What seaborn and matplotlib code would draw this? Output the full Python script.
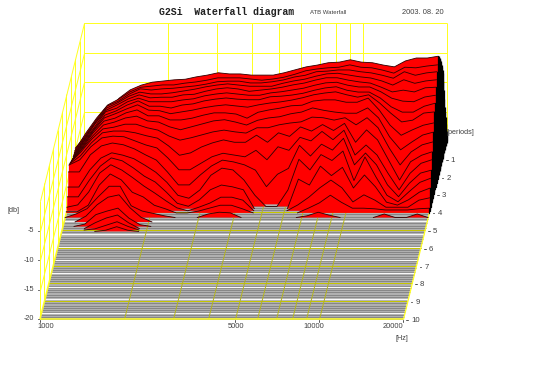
"""G2Si waterfall diagram redrawn as an oblique stack of decay slices."""
import matplotlib
matplotlib.use("Agg")
import matplotlib.pyplot as plt
import numpy as np
import pandas as pd
import seaborn as sns

freqs = [1000, 1095, 1199, 1313, 1438, 1575, 1725, 1889, 2068, 2265, 2480, 2716,
         2974, 3257, 3567, 3906, 4277, 4684, 5129, 5617, 6151, 6736, 7376, 8078,
         8846, 9687, 10608, 11617, 12721, 13930, 15255, 16705, 18293, 20000]

slice_periods = [2.00, 2.12, 2.24, 2.36, 2.48, 2.60, 2.72, 2.84, 2.96, 3.08, 3.20, 3.32,
                 3.44, 3.56, 3.68, 3.80, 3.92, 4.04, 4.30, 4.55, 4.80, 4.92, 5.00, 5.08]

db_00 = [-15.2, -12.9, -10.4, -8.7, -6.7, -5.3, -4.5, -4.0, -3.8, -3.6, -3.5, -3.1, -2.8, -2.4, -2.6, -2.6, -2.8, -2.8, -2.8, -2.4, -1.9, -1.4, -1.1, -0.7, -0.6, -0.2, -0.6, -0.7, -1.1, -1.4, -0.4, 0.1, 0.1, 0.4]
db_01 = [-15.3, -12.3, -9.7, -7.5, -6.5, -5.3, -4.5, -4.3, -4.1, -4.1, -3.8, -3.6, -3.3, -2.9, -2.9, -2.9, -3.1, -3.3, -3.1, -2.8, -2.3, -1.7, -1.4, -1.2, -1.1, -0.7, -1.1, -1.2, -1.6, -2.1, -1.1, -1.2, -0.9, -0.7]
db_02 = [-15.3, -12.4, -9.7, -7.3, -6.5, -5.3, -4.4, -4.6, -4.4, -4.3, -4.1, -3.9, -3.6, -3.2, -3.1, -3.1, -3.4, -3.4, -3.2, -2.9, -2.4, -2.1, -1.5, -1.4, -1.2, -1.2, -1.5, -1.7, -2.1, -2.6, -1.5, -2.1, -1.7, -1.5]
db_03 = [-15.3, -12.4, -9.7, -7.3, -6.4, -5.3, -4.6, -4.9, -4.9, -4.7, -4.4, -4.1, -3.7, -3.4, -3.2, -3.4, -3.6, -3.6, -3.6, -3.1, -2.7, -2.4, -1.9, -1.5, -1.4, -1.7, -2.0, -2.2, -2.7, -3.4, -2.5, -3.1, -2.7, -2.5]
db_04 = [-15.2, -12.4, -9.6, -7.3, -6.4, -5.4, -4.7, -5.2, -5.1, -5.1, -4.7, -4.6, -4.1, -3.7, -3.5, -3.7, -4.1, -3.9, -3.7, -3.4, -3.0, -2.7, -2.2, -1.8, -1.8, -2.2, -2.5, -2.7, -3.4, -4.2, -3.9, -4.2, -3.5, -3.4]
db_05 = [-15.2, -12.3, -9.8, -7.2, -6.6, -5.5, -4.9, -5.5, -5.5, -5.5, -5.2, -5.0, -4.5, -4.2, -4.0, -4.2, -4.4, -4.4, -4.0, -3.8, -3.5, -3.2, -2.7, -2.3, -2.2, -2.7, -3.0, -3.0, -3.8, -4.9, -5.4, -5.5, -4.7, -4.4]
db_06 = [-15.0, -12.3, -9.8, -7.4, -6.7, -5.7, -5.0, -5.9, -5.9, -6.2, -5.7, -5.5, -5.0, -4.7, -4.5, -4.7, -4.8, -4.8, -4.3, -4.2, -4.0, -3.7, -3.2, -2.8, -2.6, -3.2, -3.5, -3.5, -4.5, -6.0, -6.9, -6.9, -5.9, -5.4]
db_07 = [-14.8, -12.3, -9.7, -7.5, -6.8, -6.0, -5.3, -6.2, -6.3, -6.8, -6.5, -6.2, -5.8, -5.5, -5.3, -5.5, -5.7, -5.3, -5.0, -4.8, -4.5, -4.1, -3.6, -3.3, -3.1, -3.6, -4.0, -3.6, -5.0, -6.7, -8.2, -7.9, -6.7, -6.5]
db_08 = [-14.6, -12.3, -9.7, -7.7, -7.2, -6.3, -5.8, -6.8, -6.8, -7.5, -7.5, -7.2, -6.7, -6.3, -6.3, -6.5, -7.2, -6.2, -5.8, -5.5, -5.1, -5.0, -4.3, -4.1, -4.1, -4.5, -4.5, -3.8, -5.8, -8.4, -10.1, -9.2, -8.4, -8.0]
db_09 = [-14.4, -12.2, -9.9, -8.0, -7.5, -6.8, -6.5, -7.3, -7.5, -8.3, -8.8, -8.3, -7.8, -7.3, -7.1, -7.5, -8.0, -7.2, -6.8, -6.6, -6.1, -5.8, -5.1, -5.5, -5.8, -6.0, -6.0, -5.1, -6.8, -10.0, -12.2, -10.9, -9.7, -9.2]
db_10 = [-14.1, -12.2, -10.0, -8.3, -8.0, -7.5, -7.5, -8.1, -8.5, -9.5, -10.2, -9.8, -9.3, -8.8, -8.5, -8.8, -9.0, -8.1, -8.1, -7.6, -7.3, -7.1, -6.3, -6.4, -6.8, -6.4, -7.6, -6.4, -8.1, -11.5, -14.4, -12.2, -11.0, -10.5]
db_11 = [-13.9, -12.5, -10.3, -8.6, -8.3, -8.3, -8.6, -9.1, -9.5, -10.8, -12.4, -12.0, -11.0, -10.3, -9.8, -10.2, -10.2, -9.0, -10.2, -8.6, -9.2, -7.6, -8.3, -7.2, -8.2, -7.0, -10.2, -8.1, -9.8, -13.2, -16.6, -13.5, -12.4, -11.8]
db_12 = [-13.7, -12.8, -10.6, -9.1, -8.8, -8.9, -9.6, -10.3, -10.8, -12.5, -14.5, -14.5, -13.4, -12.3, -11.7, -12.0, -12.3, -11.2, -12.8, -10.6, -11.2, -9.0, -9.6, -8.0, -9.4, -7.8, -12.0, -10.3, -12.0, -15.1, -17.9, -15.1, -13.4, -12.8]
db_13 = [-14.5, -14.5, -11.6, -10.1, -9.6, -9.9, -10.6, -11.6, -12.5, -14.5, -16.7, -16.7, -15.0, -13.5, -12.5, -12.8, -13.3, -14.2, -17.0, -14.9, -13.9, -10.0, -11.8, -9.8, -10.8, -8.8, -13.3, -11.3, -13.3, -16.7, -18.7, -16.4, -14.7, -14.2]
db_14 = [-16.7, -16.7, -13.8, -11.8, -10.9, -11.3, -11.9, -13.0, -14.2, -15.9, -18.1, -18.6, -17.2, -14.7, -13.5, -13.8, -15.5, -18.1, -20, -20, -17.2, -12.0, -13.8, -11.2, -12.2, -10.6, -15.6, -11.6, -15.0, -18.1, -19.2, -17.5, -15.9, -15.2]
db_15 = [-18.0, -18.0, -15.2, -12.8, -11.4, -11.9, -13.1, -14.5, -15.5, -17.2, -19.1, -19.6, -18.5, -16.8, -16.0, -16.3, -16.8, -20, -20, -20, -20, -15.0, -16.0, -12.8, -14.4, -13.0, -16.5, -14.3, -16.3, -18.9, -19.4, -18.5, -17.2, -16.5]
db_16 = [-19.4, -19.0, -16.8, -13.6, -12.2, -13.1, -14.4, -15.8, -17.0, -18.3, -19.5, -20, -19.4, -18.7, -17.7, -17.7, -18.2, -20, -20, -20, -20, -19.0, -17.7, -16.1, -14.8, -16.1, -18.5, -17.3, -18.2, -19.4, -19.4, -19.4, -18.2, -17.8]
db_17 = [-19.8, -19.8, -18.7, -15.3, -13.4, -14.4, -16.5, -17.3, -18.7, -19.3, -20, -20, -19.7, -19.2, -18.7, -18.7, -19.3, -20, -20, -20, -20, -20, -19.2, -18.3, -17.0, -18.2, -19.2, -19.2, -19.3, -19.5, -19.5, -19.5, -19.3, -19.2]
db_18 = [-20, -19.4, -18.5, -16.5, -14.7, -14.7, -18.0, -18.9, -19.3, -19.7, -20, -20, -20, -19.4, -19.1, -19.2, -20, -20, -20, -20, -20, -20, -19.7, -19.1, -19.6, -20, -20, -20, -20, -19.4, -20, -20, -19.4, -20]
db_19 = [-20, -20, -19.0, -17.1, -15.8, -15.4, -17.6, -19.2] + [-20] * 26
db_20 = [-20, -20, -19.6, -18.0, -17.4, -16.9, -18.6, -19.7] + [-20] * 26
db_21 = [-20, -20, -20, -19.0, -18.2, -17.7, -19.0, -20] + [-20] * 26
db_22 = [-20, -20, -20, -19.8, -19.2, -18.6, -19.4, -20] + [-20] * 26
db_23 = [-20, -20, -20, -20, -19.8, -19.2, -19.8, -20] + [-20] * 26

# level at 20 kHz while the response is still building up, before the top slice
rise_periods = [0.0, 0.1, 0.2, 0.3, 0.4, 0.5, 0.6, 0.7, 0.8, 0.9,
                1.0, 1.1, 1.2, 1.3, 1.4, 1.5, 1.6, 1.7, 1.8, 1.9]
rise_end_db = [-19.0, -18.0, -16.5, -15.0, -13.8, -12.7, -11.0, -9.3, -7.5, -5.8,
               -5.0, -4.2, -3.5, -2.9, -2.3, -1.8, -1.3, -0.8, -0.3, 0.1]

# pale bands the scan leaves in the floor lines
pale_periods = [4.49, 5.22, 5.96, 6.69, 7.42, 8.20, 8.88, 9.66]

grid_freqs = [2000, 3000, 4000, 5000, 6000, 7000, 8000, 9000, 10000]
db_ticks = [-5, -10, -15, -20]
period_ticks = [1, 2, 3, 4, 5, 6, 7, 8, 9, 10]
freq_labels = ["1000", "5000", "10000", "20000"]

DB_MIN, DB_MAX = -20, 0
F_MIN, F_MAX = 1000, 20000
P_MAX = 10

YELLOW = "#ffff22"


def project(freq, period, db):
    """Oblique projection of (frequency, periods, level) to image pixels."""
    freq = np.asarray(freq, dtype=float)
    period = np.asarray(period, dtype=float)
    db = np.asarray(db, dtype=float)
    x = 84 + 279 * np.log10(freq / F_MIN) - 4.4 * period
    y = 141 + 17.8 * period - 5.9 * (db - DB_MIN)
    return x, y


def seg(ax, a, b, color=YELLOW, lw=0.72, z=1):
    xa, ya = project(*a)
    xb, yb = project(*b)
    ax.plot([xa, xb], [ya, yb], color=color, lw=lw, zorder=z, solid_capstyle="butt", snap=True)


sns.set_theme(style="white")
plt.rcParams["font.family"] = ["Liberation Sans", "DejaVu Sans"]
fig = plt.figure(figsize=(5.4, 3.66), dpi=100)
ax = fig.add_axes([0, 0, 1, 1])

# back and side walls
for db in [0, -5, -10, -15, -20]:
    seg(ax, (F_MIN, 0, db), (F_MAX, 0, db))
    seg(ax, (F_MIN, 0, db), (F_MIN, P_MAX, db))
for f in grid_freqs + [F_MIN, F_MAX]:
    seg(ax, (f, 0, DB_MIN), (f, 0, DB_MAX))
for p in range(0, P_MAX + 1):
    seg(ax, (F_MIN, p, DB_MIN), (F_MIN, p, DB_MAX))

# floor: every late slice has decayed to the bottom of the scale
fx, fy = project([F_MIN, F_MAX, F_MAX, F_MIN], [2.0, 2.0, P_MAX, P_MAX], [DB_MIN] * 4)
ax.fill(fx, fy, color="#b0b0b0", lw=0, zorder=1.4)
for p in np.arange(2.0, P_MAX + 0.001, 0.125):
    x, y = project([F_MIN, F_MAX], [p, p], [DB_MIN, DB_MIN])
    ax.plot(x, y, color="#808080", lw=0.6, zorder=1.5, solid_capstyle="butt")
for p in pale_periods:
    x, y = project([F_MIN, F_MAX], [p, p], [DB_MIN, DB_MIN])
    ax.plot(x, y, color="#f8f8f8", lw=0.85, zorder=1.6, solid_capstyle="butt")

# floor grid
for p in [4, 5, 6, 7, 8, 9]:
    seg(ax, (F_MIN, p, DB_MIN), (F_MAX, p, DB_MIN), color="#c4c400", lw=0.72, z=2)
for f in grid_freqs:
    seg(ax, (f, 3.4, DB_MIN), (f, P_MAX, DB_MIN), color="#b4b41e", lw=0.7, z=2)
seg(ax, (F_MIN, P_MAX, DB_MIN), (F_MAX, P_MAX, DB_MIN), lw=1.1, z=2.2)
seg(ax, (F_MIN, 3.4, DB_MIN), (F_MIN, P_MAX, DB_MIN), lw=1.1, z=2.2)
seg(ax, (F_MAX, 4, DB_MIN), (F_MAX, P_MAX, DB_MIN), lw=0.9, z=2.2)

# build-up part: only the closing edges at 20 kHz can be seen
for p, db in zip(rise_periods, rise_end_db):
    seg(ax, (F_MAX, p, DB_MIN), (F_MAX, p, db), color="black", lw=0.9, z=3)

slices = [db_00, db_01, db_02, db_03, db_04, db_05, db_06, db_07, db_08, db_09, db_10, db_11,
          db_12, db_13, db_14, db_15, db_16, db_17, db_18, db_19, db_20, db_21, db_22, db_23]

for k, (p, levels) in enumerate(zip(slice_periods, slices)):
    levels = np.asarray(levels, dtype=float)
    z = 4 + k * 0.01
    x, y = project(freqs, p, levels)
    x_base, y_base = project(freqs, p, np.full(levels.shape, DB_MIN))
    ax.fill(np.r_[x, x_base[::-1]], np.r_[y, y_base[::-1]], color="#ff0000", lw=0, zorder=z)

    # outline only where the slice stands above the floor
    above = levels > DB_MIN
    visible = above | np.r_[above[1:], False] | np.r_[False, above[:-1]]
    run_id = np.cumsum(np.r_[True, visible[1:] != visible[:-1]])
    df = pd.DataFrame({"x": x, "y": y, "run": run_id})[visible]
    if not df.empty:
        sns.lineplot(data=df, x="x", y="y", units="run", estimator=None, sort=False,
                     color="#300000", lw=0.62, ax=ax, legend=False, zorder=z + 0.001)
    if above[-1]:
        ax.plot([x_base[-1], x[-1]], [y_base[-1], y[-1]], color="black", lw=0.9, zorder=z + 0.001)

ax.set_xlim(0, 540)
ax.set_ylim(366, 0)
ax.set_xlabel("")
ax.set_ylabel("")
ax.axis("off")

# ticks and labels
TXT = "#404040"
for db in db_ticks:
    x, y = project(F_MIN, P_MAX, db)
    ax.plot([x - 2.5, x - 1], [y, y], color="#555555", lw=0.7, zorder=5)
    ax.text(x - 6, y, str(db), ha="right", va="center", fontsize=5.2, color=TXT, zorder=10)
ax.text(14, 210, "[db]", ha="center", va="center", fontsize=5.2, color=TXT, zorder=10)

for p in period_ticks:
    x, y = project(F_MAX, p, DB_MIN)
    ax.plot([x + 3.5, x + 5], [y + 1, y + 1], color="#555555", lw=0.7, zorder=5)
    ax.text(x + 8, y + 1.5, str(p), ha="left", va="center", fontsize=5.6, color=TXT, zorder=10)
ax.text(460, 133, "[periods]", ha="center", va="center", fontsize=5.2, color=TXT, zorder=10)

for label in freq_labels:
    x, y = project(float(label), P_MAX, DB_MIN)
    ax.plot([x, x], [y + 1, y + 2.5], color="#555555", lw=0.7, zorder=5)
ax.text(46, 326, freq_labels[0], ha="center", va="center", fontsize=5.4, color=TXT)
ax.text(236, 326, freq_labels[1], ha="center", va="center", fontsize=5.4, color=TXT)
ax.text(314, 326, freq_labels[2], ha="center", va="center", fontsize=5.4, color=TXT)
ax.text(393, 327, freq_labels[3], ha="center", va="center", fontsize=5.4, color=TXT)
ax.text(402, 338, "[Hz]", ha="center", va="center", fontsize=5.2, color=TXT)

ax.text(159, 12, "G2Si  Waterfall diagram", ha="left", va="center", fontsize=7.1,
        family="Liberation Mono", fontweight="bold", color="#202020")
ax.text(328, 13, "ATB Waterfall", ha="center", va="center", fontsize=4.3, color=TXT)
ax.text(423, 13, "2003. 08. 20", ha="center", va="center", fontsize=5.4, color=TXT)

fig.savefig("out.png", dpi=100)
plt.close(fig)
